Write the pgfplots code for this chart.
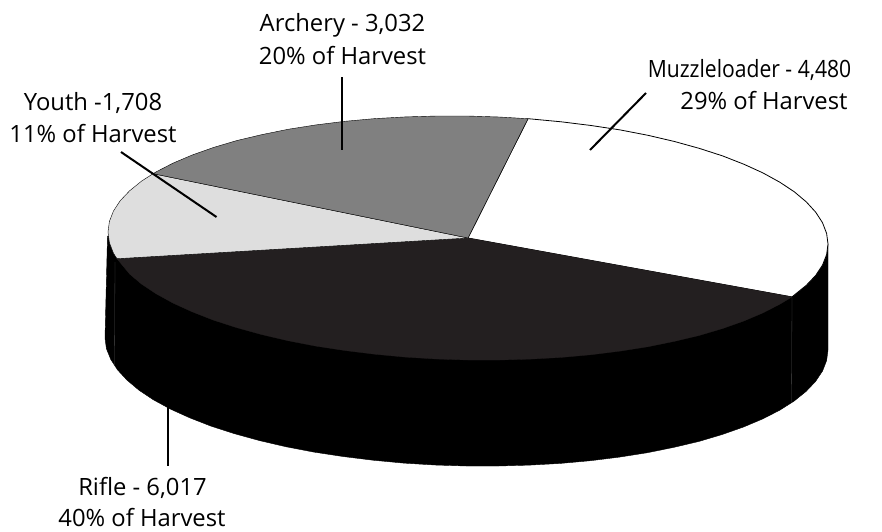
\documentclass[border=0pt]{standalone}
\usepackage{fontspec}
\setmainfont{Open Sans}
\usepackage{graphicx}
\usepackage{pgfplots}
\pgfplotsset{compat=1.18}
\definecolor{riflecol}{HTML}{231F20}
\definecolor{archerycol}{HTML}{808080}
\definecolor{youthcol}{HTML}{DEDEDE}
\newcommand{\lab}[3]{\node[anchor=base,inner sep=0pt,font=\fontsize{23.8}{24}\selectfont] at (axis cs:#1,#2) {#3};}
\begin{document}
\begin{tikzpicture}
\path[use as bounding box] (0,0) rectangle (882pt,531pt);
\begin{axis}[
    at={(0,0)}, anchor=south west,
    width=882pt, height=531pt, scale only axis,
    xmin=0, xmax=882, ymin=0, ymax=531,
    y dir=reverse,
    hide axis,
    clip=false,
    no markers,
  ]

  % side wall, pixel coordinates of the reference
  \addplot[fill=black, draw=black, line width=0.4pt] coordinates {
    (828,244) (828,350) (826.6,360.6) (822.5,371.1) (815.6,381.4) (806.2,391.3)
    (794.2,401) (779.7,410.2) (762.7,418.9) (743.5,427) (722.2,434.5) (699,441.4)
    (674,447.3) (647.4,452.7) (619.4,457.1) (590.4,460.7) (560.4,463.4) (529.6,465.1)
    (498.5,466) (466.5,466) (435,465) (403.8,463.1) (373,460.2) (343,456.5)
    (314,452.1) (285.8,446.7) (259.2,440.5) (234.2,433.6) (211,426.1) (189.7,417.8)
    (170.5,409.1) (153.4,399.8) (139,390.2) (127,380.1) (117.5,369.8) (110.7,359.3)
    (106.4,348.6) (105,338) (107.5,236)
  } -- cycle;

  % seams in the wall
  \addplot[draw=black!70, line width=0.3pt] coordinates {(792,297) (791.5,402)};
  \addplot[draw=black!70, line width=0.3pt] coordinates {(115,262) (114.5,366)};

  % Muzzleloader
  \addplot[fill=white, draw=black, line width=0.8pt] coordinates {
    (468,238) (528,118.7) (530.5,118.9) (561.2,121.8) (591.1,125.5) (620.1,129.9)
    (648,135.3) (674.5,141.5) (699.4,148.4) (722.6,155.9) (743.8,164.2) (762.9,172.9)
    (779.8,182.2) (794.3,191.8) (806.3,201.9) (815.7,212.2) (822.5,222.7) (826.6,233.4)
    (828,244) (826.6,254.6) (822.5,265.1) (815.7,275.4) (806.3,285.3) (794.3,295) (792,296.9)
  } -- cycle;

  % Rifle
  \addplot[fill=riflecol, draw=riflecol, line width=0.3pt] coordinates {
    (468,238) (792,296.9) (779.8,304.2) (762.9,312.9) (743.8,321) (722.6,328.5)
    (699.4,335.4) (674.5,341.3) (648,346.7) (620.1,351.1) (591.1,354.7) (561.2,357.4)
    (530.5,359.1) (499.4,360) (468,360) (436.6,359) (405.5,357.1) (374.8,354.2)
    (344.9,350.5) (315.9,346.1) (288,340.7) (261.5,334.5) (236.6,327.6) (213.4,320.1)
    (192.2,311.8) (173.1,303.1) (156.2,293.8) (141.7,284.2) (129.7,274.1) (117,258.7)
  } -- cycle;

  % Youth
  \addplot[fill=youthcol, draw=black, line width=0.4pt] coordinates {
    (468,238) (117,258.7) (113.5,253.3) (109.4,242.6) (108,232) (109.4,221.4)
    (113.5,210.9) (120.3,200.6) (129.7,190.7) (141.7,181) (153.1,173.7)
  } -- cycle;

  % Archery
  \addplot[fill=archerycol, draw=black, line width=0.4pt] coordinates {
    (468,238) (153.1,173.7) (156.2,171.8) (173.1,163.1) (192.2,155) (213.4,147.5)
    (236.6,140.6) (261.5,134.7) (288,129.3) (315.9,124.9) (344.9,121.3) (374.8,118.6)
    (405.5,116.9) (436.6,116) (468,116) (499.4,117) (528,118.7)
  } -- cycle;

  % leader lines
  \addplot[draw=black, line width=2pt] coordinates {(342,77) (342,150)};
  \addplot[draw=black, line width=2pt] coordinates {(590,150) (646,93)};
  \addplot[draw=black, line width=2pt] coordinates {(121,152) (216.5,217)};
  \addplot[draw=black, line width=2pt] coordinates {(168,407) (168,466)};

  \lab{342.5}{31.5}{Archery - 3,032}
  \lab{342.5}{64.7}{20\% of Harvest}
  \lab{749.5}{77.3}{\scalebox{0.887}[1]{Muzzleloader - 4,480}}
  \lab{764}{109.3}{29\% of Harvest}
  \lab{93}{110}{Youth -1,708}
  \lab{93}{142.3}{11\% of Harvest}
  \lab{142.5}{495}{Rifle - 6,017}
  \lab{142}{526.5}{40\% of Harvest}
\end{axis}
\end{tikzpicture}
\end{document}
